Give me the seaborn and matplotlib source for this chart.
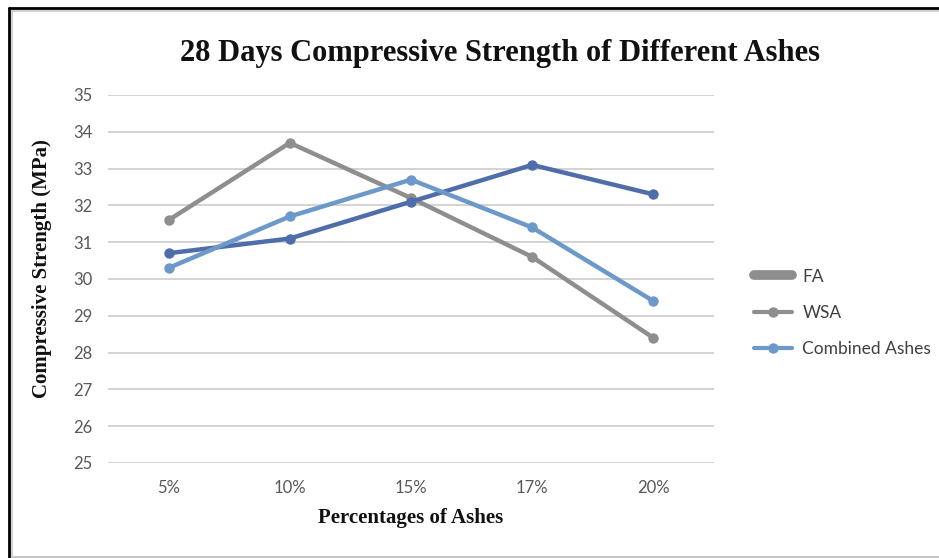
import matplotlib
matplotlib.use("Agg")
import matplotlib.pyplot as plt
from matplotlib.lines import Line2D
import seaborn as sns
import pandas as pd

percentages = ["5%", "10%", "15%", "17%", "20%"]
fa = [30.7, 31.1, 32.1, 33.1, 32.3]
wsa = [31.6, 33.7, 32.2, 30.6, 28.4]
combined = [30.3, 31.7, 32.7, 31.4, 29.4]
series_names = ["FA", "WSA", "Combined Ashes"]
y_ticks = list(range(25, 36))

df = pd.DataFrame({
    "Percentage": percentages * 3,
    "Strength": fa + wsa + combined,
    "Series": [s for s in series_names for _ in percentages],
})

palette = {"FA": "#4F6DAA", "WSA": "#8E8E8E", "Combined Ashes": "#6C98CA"}

sns.set_theme(style="white")
fig = plt.figure(figsize=(9.39, 5.58), dpi=100)
ax = fig.add_axes([108 / 939, 1 - 463 / 558, (714 - 108) / 939, (463 - 95) / 558])

# draw WSA first so the blue series sit on top
for name in ["WSA", "FA", "Combined Ashes"]:
    sub = df[df["Series"] == name]
    sns.lineplot(data=sub, x="Percentage", y="Strength", color=palette[name],
                 marker="o", markersize=7.5, markeredgewidth=0, linewidth=3.2,
                 sort=False, ax=ax, legend=False, zorder=3)

ax.set_xlim(-0.5, len(percentages) - 0.5)
ax.set_ylim(25, 35)
ax.set_yticks(y_ticks)
ax.set_yticklabels([str(t) for t in y_ticks])
ax.grid(axis="y", color="#D0D0D0", linewidth=1.3)
ax.grid(axis="x", visible=False)
for sp in ax.spines.values():
    sp.set_visible(False)
ax.tick_params(axis="both", length=0, labelsize=12, labelcolor="#595959")
ax.tick_params(axis="y", pad=11)
ax.tick_params(axis="x", pad=12)
for lbl in ax.get_xticklabels() + ax.get_yticklabels():
    lbl.set_fontfamily("Lato")

ax.set_xlabel("Percentages of Ashes", fontfamily="Liberation Serif", fontweight="bold",
              fontsize=15, color="#111111")
ax.xaxis.set_label_coords(0.5, -(518 - 463) / 368)
ax.set_ylabel("Compressive Strength (MPa)", fontfamily="Liberation Serif", fontweight="bold",
              fontsize=15, color="#111111")
ax.yaxis.set_label_coords(-(108 - 42) / 606, (463 - 269) / 368)
ax.xaxis.label.set_va("center")
ax.yaxis.label.set_va("center")

fig.text(500 / 939, 1 - 53 / 558, "28 Days Compressive Strength of Different Ashes",
         fontfamily="Liberation Serif", fontweight="bold", fontsize=22,
         ha="center", va="center", color="#111111")

handles = [
    Line2D([], [], color="#8E8E8E", linewidth=7, solid_capstyle="round"),
    Line2D([], [], color="#8E8E8E", linewidth=3, marker="o", markersize=7.5, markeredgewidth=0),
    Line2D([], [], color="#6C98CA", linewidth=3, marker="o", markersize=7.5, markeredgewidth=0),
]
fig.legend(handles, series_names, loc="center left",
           bbox_to_anchor=(738 / 939, 1 - 313 / 558), frameon=False,
           prop={"family": "Lato", "size": 12.5}, labelcolor="#404040",
           handlelength=2.2, handletextpad=0.6, labelspacing=1.18)

# chart frame
fig.add_artist(Line2D([9 / 939, 9 / 939], [0, 1 - 8 / 558], transform=fig.transFigure,
                      color="black", linewidth=2))
fig.add_artist(Line2D([9 / 939, 1], [1 - 8 / 558, 1 - 8 / 558], transform=fig.transFigure,
                      color="black", linewidth=2))
fig.add_artist(Line2D([12 / 939, 12 / 939], [1.5 / 558, 1 - 11 / 558], transform=fig.transFigure,
                      color="#C8C8C8", linewidth=1.2))
fig.add_artist(Line2D([12 / 939, 1], [1 - 11 / 558, 1 - 11 / 558], transform=fig.transFigure,
                      color="#C8C8C8", linewidth=1.2))
fig.add_artist(Line2D([12 / 939, 1], [1.5 / 558, 1.5 / 558], transform=fig.transFigure,
                      color="#C8C8C8", linewidth=1.5))

fig.savefig("out.png", dpi=100)
